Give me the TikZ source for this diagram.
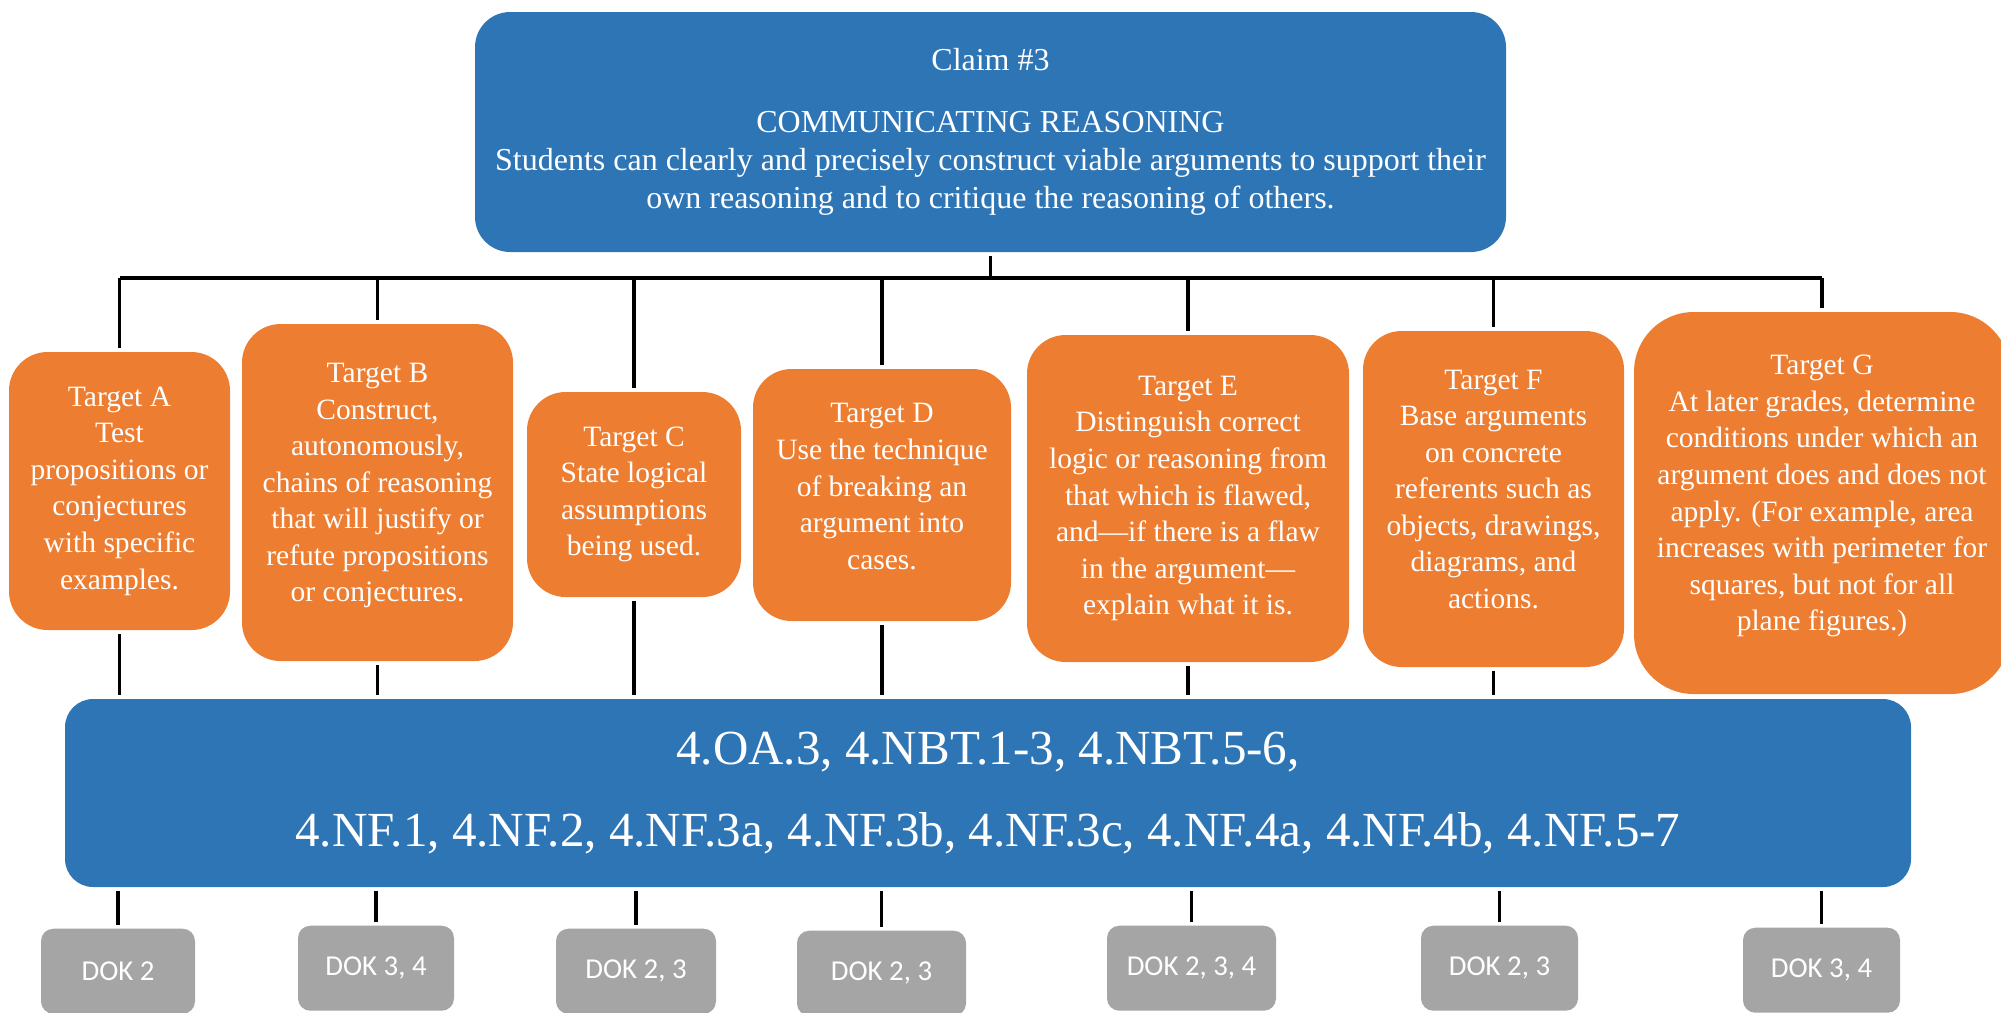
\documentclass[tikz,border=0pt]{standalone}
\usepackage{fontspec}
\setmainfont{Liberation Serif}
\newfontfamily\dokfont{Carlito}
\usepackage{xcolor}
\usetikzlibrary{positioning, calc}
\definecolor{claimblue}{HTML}{2E75B6}
\definecolor{targetorange}{HTML}{ED7D31}
\definecolor{dokgray}{HTML}{A5A5A5}

\begin{document}
\begin{tikzpicture}[
    claimbox/.style={fill=claimblue, text=white, align=center, rounded corners=10pt, inner sep=0pt},
    target/.style={fill=targetorange, text=white, align=center, rounded corners=11pt, inner sep=0pt,
        font=\fontsize{8.4}{10.4}\selectfont},
    dokbox/.style={fill=dokgray, text=white, rounded corners=3.5pt, inner sep=0pt,
        minimum height=0.85cm, anchor=north, font=\dokfont\fontsize{8.2}{10}\selectfont},
    stem/.style={line width=0.9pt, shorten <=1pt, shorten >=1pt},
    busline/.style={line width=1.15pt}]
\useasboundingbox (0,0) rectangle (20.01,-10.12);
\clip (0,0) rectangle (20.01,-10.12);
% Claim
\node[claimbox, minimum width=10.31cm, minimum height=2.40cm, font=\fontsize{9.1}{10.8}\selectfont]
    (claim) at (9.905,-1.32) {Claim \#3\\[6.8pt]
    COMMUNICATING REASONING\\
    Students can clearly and precisely construct viable arguments to support their\\
    own reasoning and to critique the reasoning of others.};
% Targets
\node[target, minimum width=2.21cm, minimum height=2.78cm] (tA) at (1.195,-4.91)
    {Target A\\Test\\propositions or\\conjectures\\with specific\\examples.};
\node[target, minimum width=2.71cm, minimum height=3.37cm] (tB) at (3.775,-4.925)
    {Target B\\Construct,\\autonomously,\\chains of reasoning\\that will justify or\\refute propositions\\or conjectures.\\[-4.7pt]};
\node[target, minimum width=2.14cm, minimum height=2.05cm] (tC) at (6.34,-4.945)
    {Target C\\State logical\\assumptions\\being used.};
\node[target, minimum width=2.58cm, minimum height=2.52cm] (tD) at (8.82,-4.95)
    {Target D\\Use the technique\\of breaking an\\argument into\\cases.\\[-5.5pt]};
\node[target, minimum width=3.22cm, minimum height=3.27cm] (tE) at (11.88,-4.985)
    {Target E\\Distinguish correct\\logic or reasoning from\\that which is flawed,\\and---if there is a flaw\\in the argument---\\explain what it is.};
\node[target, minimum width=2.61cm, minimum height=3.36cm] (tF) at (14.935,-4.99)
    {Target F\\Base arguments\\on concrete\\referents such as\\objects, drawings,\\diagrams, and\\actions.\\[-4.7pt]};
\node[target, minimum width=3.76cm, minimum height=3.82cm, rounded corners=17pt] (tG) at (18.22,-5.03)
    {Target G\\At later grades, determine\\conditions under which an\\argument does and does not\\apply. (For example, area\\increases with perimeter for\\squares, but not for all\\plane figures.)\\[-4.7pt]};
% Standards
\node[claimbox, minimum width=18.46cm, minimum height=1.88cm, rounded corners=8pt,
    font=\fontsize{13.95}{23.2}\selectfont] (std) at (9.88,-7.93)
    {4.OA.3, 4.NBT.1-3, 4.NBT.5-6,\\4.NF.1, 4.NF.2, 4.NF.3a, 4.NF.3b, 4.NF.3c, 4.NF.4a, 4.NF.4b, 4.NF.5-7};
% DOK
\node[dokbox, minimum width=1.54cm] (dA) at (1.18,-9.28) {DOK 2};
\node[dokbox, minimum width=1.56cm] (dB) at (3.76,-9.25) {DOK 3, 4};
\node[dokbox, minimum width=1.60cm] (dC) at (6.36,-9.28) {DOK 2, 3};
\node[dokbox, minimum width=1.69cm] (dD) at (8.815,-9.30) {DOK 2, 3};
\node[dokbox, minimum width=1.69cm] (dE) at (11.915,-9.25) {DOK 2, 3, 4};
\node[dokbox, minimum width=1.57cm] (dF) at (14.995,-9.25) {DOK 2, 3};
\node[dokbox, minimum width=1.57cm] (dG) at (18.215,-9.27) {DOK 3, 4};
% Connectors
\coordinate (bus) at (0,-2.78);
\draw[busline] (tA.north |- bus) -- (tG.north |- bus);
\draw[stem, shorten >=0pt] (claim.south) -- (claim.south |- bus);
\foreach \t in {tA,tB,tC,tD,tE,tF,tG}
    \draw[stem, shorten <=0pt] (\t.north |- bus) -- (\t.north);
\foreach \t in {tA,tB,tC,tD,tE,tF}
    \draw[stem] (\t.south) -- (\t.south |- std.north);
\foreach \d in {dA,dB,dC,dD,dE,dF,dG}
    \draw[stem] (\d.north |- std.south) -- (\d.north);
\end{tikzpicture}
\end{document}
